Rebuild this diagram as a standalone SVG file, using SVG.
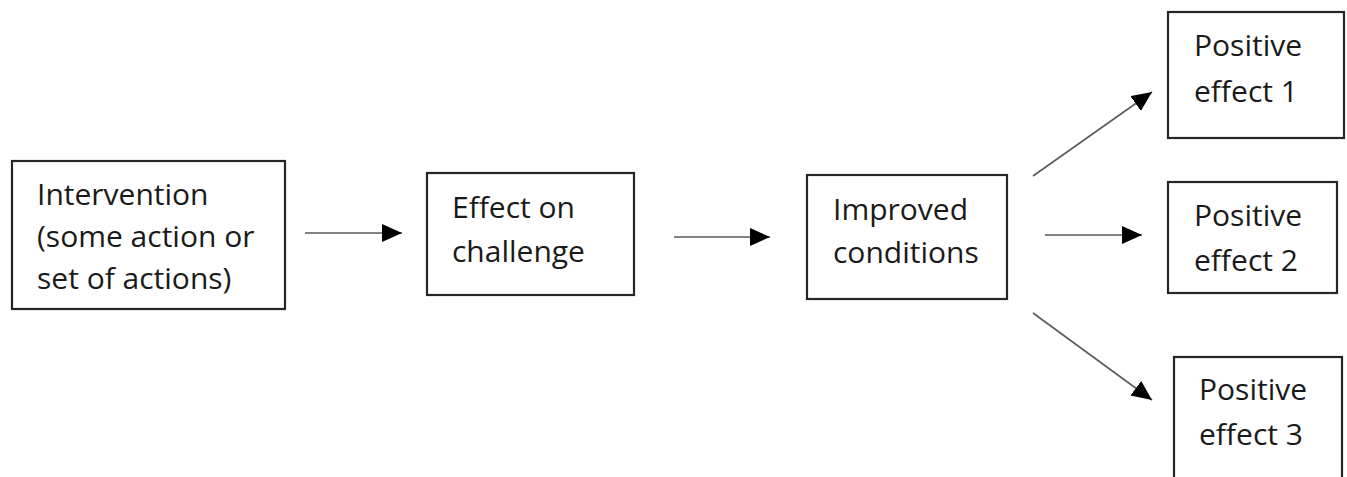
<svg xmlns="http://www.w3.org/2000/svg" width="1347" height="477" viewBox="0 0 1347 477">
<style>
.box{fill:#fff;stroke:#262626;stroke-width:2.2}
.lbl{font-family:"Open Sans","Noto Sans",sans-serif;font-size:30px;fill:#1a1a1a}
.conn{stroke:#5a5a5a;stroke-width:1.6;fill:none;marker-end:url(#ah)}
</style>
<defs>
<marker id="ah" markerUnits="userSpaceOnUse" markerWidth="21" markerHeight="19" refX="20" refY="9" orient="auto">
<path d="M0,0 L20,9 L0,18 z" fill="#000"/>
</marker>
</defs>
<rect width="1347" height="477" fill="#fff"/>
<g id="connectors">
<line class="conn" x1="305" y1="233" x2="402" y2="233"/>
<line class="conn" x1="674" y1="237" x2="770" y2="237"/>
<line class="conn" x1="1033" y1="176" x2="1152" y2="92"/>
<line class="conn" x1="1045" y1="235" x2="1142" y2="235"/>
<line class="conn" x1="1033" y1="313" x2="1152" y2="400"/>
</g>
<g id="intervention">
<rect class="box" x="12" y="161" width="273" height="148"/>
<text class="lbl" x="37" y="205">Intervention</text>
<text class="lbl" x="37" y="247">(some action or</text>
<text class="lbl" x="37" y="289">set of actions)</text>
</g>
<g id="effect-on-challenge">
<rect class="box" x="427" y="173" width="207" height="122"/>
<text class="lbl" x="452" y="218">Effect on</text>
<text class="lbl" x="452" y="262">challenge</text>
</g>
<g id="improved-conditions">
<rect class="box" x="807" y="175" width="200" height="124"/>
<text class="lbl" x="833" y="220">Improved</text>
<text class="lbl" x="833" y="263">conditions</text>
</g>
<g id="positive-effect-1">
<rect class="box" x="1168" y="12" width="176" height="126"/>
<text class="lbl" x="1194" y="56">Positive</text>
<text class="lbl" x="1194" y="102">effect 1</text>
</g>
<g id="positive-effect-2">
<rect class="box" x="1168" y="182" width="169" height="111"/>
<text class="lbl" x="1194" y="226">Positive</text>
<text class="lbl" x="1194" y="271">effect 2</text>
</g>
<g id="positive-effect-3">
<rect class="box" x="1174" y="357" width="168" height="140"/>
<text class="lbl" x="1199" y="400">Positive</text>
<text class="lbl" x="1199" y="445">effect 3</text>
</g>
</svg>
